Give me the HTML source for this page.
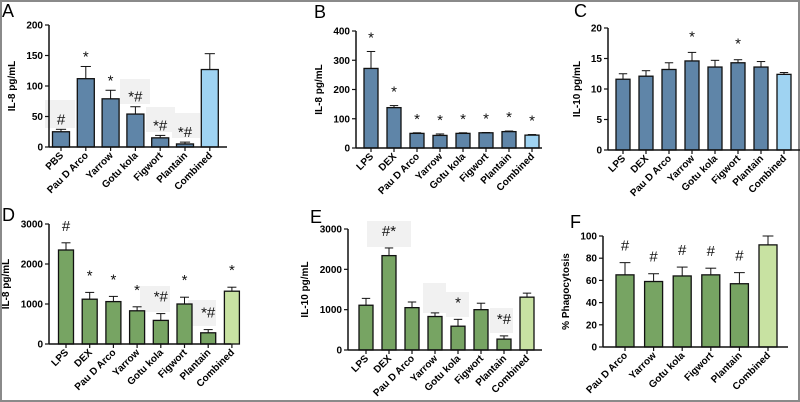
<!DOCTYPE html>
<html><head><meta charset="utf-8">
<style>
html,body{margin:0;padding:0;background:#fff;}
svg{display:block;font-family:"Liberation Sans",Arial,sans-serif;}
</style></head>
<body>
<svg id="fig" width="800" height="402" viewBox="0 0 800 402" xmlns="http://www.w3.org/2000/svg">
<rect x="1" y="1" width="798" height="400" fill="#fff" stroke="#8a8a8a" stroke-width="2"/>
</svg>
<script>
// Panel A data
const catsA = ["PBS","Pau D Arco","Yarrow","Gotu kola","Figwort","Plantain","Combined"];
const valsA = [25,112,79,54,15,5,127];
const errsA = [29,132,93,66,19,8,153];
const annA = ["#","*","*","*#","*#","*#",""];
const ticksA = [0,50,100,150,200];
// Panel B data
const catsB = ["LPS","DEX","Pau D Arco","Yarrow","Gotu kola","Figwort","Plantain","Combined"];
const valsB = [272,138,50,43,50,52,56,44];
const errsB = [330,145,52,48,52,53,58,46];
const annB = ["*","*","*","*","*","*","*","*"];
const ticksB = [0,100,200,300,400];
// Panel C data
const catsC = ["LPS","DEX","Pau D Arco","Yarrow","Gotu kola","Figwort","Plantain","Combined"];
const valsC = [11.6,12.1,13.2,14.6,13.6,14.3,13.6,12.4];
const errsC = [12.5,13,14.3,16,14.7,14.8,14.5,12.7];
const annC = ["","","","*","","*","",""];
const ticksC = [0,5,10,15,20];
// Panel D data
const catsD = ["LPS","DEX","Pau D Arco","Yarrow","Gotu kola","Figwort","Plantain","Combined"];
const valsD = [2350,1120,1060,830,590,1000,280,1320];
const errsD = [2530,1290,1190,930,760,1170,360,1420];
const annD = ["#","*","*","*","*#","*","*#","*"];
const ticksD = [0,1000,2000,3000];
// Panel E data
const catsE = ["LPS","DEX","Pau D Arco","Yarrow","Gotu kola","Figwort","Plantain","Combined"];
const valsE = [1110,2340,1050,830,590,1000,270,1310];
const errsE = [1280,2530,1190,920,760,1160,350,1410];
const annE = ["","#*","","","*","","*#",""];
const ticksE = [0,1000,2000,3000];
// Panel F data
const catsF = ["Pau D Arco","Yarrow","Gotu kola","Figwort","Plantain","Combined"];
const valsF = [65,59,64,65,57,92];
const errsF = [76,66,72,71,67,100];
const annF = ["#","#","#","#","#",""];
const ticksF = [0,20,40,60,80,100];

const NS = "http://www.w3.org/2000/svg";
const svg = document.getElementById("fig");
function mk(tag, attrs, parent, text){
  const e = document.createElementNS(NS, tag);
  for (const k in attrs) e.setAttribute(k, attrs[k]);
  if (text !== undefined) e.textContent = text;
  (parent||svg).appendChild(e);
  return e;
}
const BLUE="#5f85a8", LBLUE="#9fd3f2", GREEN="#77a463", LGREEN="#c8e2a2";

function panel(p){
  const g = mk("g",{});
  
  
  const ymax = p.ticks[p.ticks.length-1];
  const ys = v => p.y0 - (v/ymax)*(p.y0-p.yTop);
  const xs = i => p.x1 + i*p.step;
  const maxChars = Math.max(...p.ticks.map(t=>String(t).length));
  const titleOff = 10 + maxChars*6 + 6;
  const L = mk("text",{x:p.lx,y:p.ly,"font-size":18,fill:"#000"},g,p.id);
  
  
  const yt = mk("text",{x:0,y:0,"font-size":10,"font-weight":"bold","text-anchor":"middle",transform:`translate(${p.ax-titleOff},${(p.y0+p.yTop)/2}) rotate(-90)`},g,p.ytitle);
  
  
  (p.boxes||[]).forEach(b=>{
    const r = mk("rect",{x:b[0],y:b[1],width:b[2],height:b[3],fill:"#f1f1f1"},g);
    
    
  });
  p.vals.forEach((v,i)=>{
    const cx = xs(i), last = i===p.vals.length-1;
    const et = ys(p.errs[i]);
    const el = mk("line",{x1:cx,x2:cx,y1:et,y2:ys(v),stroke:"#111","stroke-width":1},g);
    
    
    const ec = mk("line",{x1:cx-p.bw*0.3,x2:cx+p.bw*0.3,y1:et,y2:et,stroke:"#111","stroke-width":1},g);
    
    
    const r = mk("rect",{x:cx-p.bw/2,y:ys(v),width:p.bw,height:p.y0-ys(v),fill:last?p.c2:p.c1,stroke:"#111","stroke-width":1.3},g);
    
    
    if (p.ann[i]) {
      const a = mk("text",{x:cx,y:et-p.agap,"font-size":15,"text-anchor":"middle",fill:"#111"},g,p.ann[i]);
      
      
    }
    const tk = mk("line",{x1:cx,x2:cx,y1:p.y0,y2:p.y0+4,stroke:"#111","stroke-width":1.2},g);
    
    
    const lb = mk("text",{x:0,y:0,"font-size":10,"font-weight":"bold","text-anchor":"end",transform:`translate(${cx+3},${p.y0+9}) rotate(-45)`},g,p.cats[i]);
    
    
  });
  const xa = mk("line",{x1:p.ax,x2:p.xEnd,y1:p.y0,y2:p.y0,stroke:"#111","stroke-width":1.5},g);
  
  
  const ya = mk("line",{x1:p.ax,x2:p.ax,y1:p.yTop,y2:p.y0,stroke:"#111","stroke-width":1.5},g);
  
  
  p.ticks.forEach(t=>{
    const y = ys(t);
    const tl = mk("line",{x1:p.ax-4,x2:p.ax,y1:y,y2:y,stroke:"#111","stroke-width":1.2},g);
    
    
    const tt = mk("text",{x:p.ax-6,y:y+3.5,"font-size":10,"font-weight":"bold","text-anchor":"end"},g,String(t));
    
    
  });
}

panel({id:"A",cats:catsA,vals:valsA,errs:errsA,ann:annA,ticks:ticksA,ytitle:"IL-8 pg/mL",
  ax:49,xEnd:227,y0:147,yTop:25,x1:61,step:24.8,bw:17,c1:BLUE,c2:LBLUE,lx:2,ly:17,agap:5,
  boxes:[[45,100,30,28],[120,79,30,25],[146,107,29,25],[172,113,28,25]]});
panel({id:"B",cats:catsB,vals:valsB,errs:errsB,ann:annB,ticks:ticksB,ytitle:"IL-8 pg/mL",
  ax:356,xEnd:542,y0:148,yTop:31,x1:371,step:23,bw:14,c1:BLUE,c2:LBLUE,lx:314,ly:18,agap:9});
panel({id:"C",cats:catsC,vals:valsC,errs:errsC,ann:annC,ticks:ticksC,ytitle:"IL-10 pg/mL",
  ax:608,xEnd:800,y0:150,yTop:28,x1:623,step:23,bw:14,c1:BLUE,c2:LBLUE,lx:574,ly:17,agap:11});
panel({id:"D",cats:catsD,vals:valsD,errs:errsD,ann:annD,ticks:ticksD,ytitle:"IL-8 pg/mL",
  ax:49,xEnd:231,y0:344,yTop:224,x1:66,step:23.7,bw:15,c1:GREEN,c2:LGREEN,lx:2,ly:221,agap:12,
  boxes:[[140,286,30,26],[188,300,28,26]]});
panel({id:"E",cats:catsE,vals:valsE,errs:errsE,ann:annE,ticks:ticksE,ytitle:"IL-10 pg/mL",
  ax:348,xEnd:542,y0:350,yTop:229,x1:366,step:23,bw:14,c1:GREEN,c2:LGREEN,lx:310,ly:223,agap:12,
  boxes:[[367,221,44,26],[423,283,23,30],[446,292,23,25],[490,308,23,25]]});
panel({id:"F",cats:catsF,vals:valsF,errs:errsF,ann:annF,ticks:ticksF,ytitle:"% Phagocytosis",
  ax:603,xEnd:788,y0:347,yTop:236,x1:625,step:28.6,bw:18,c1:GREEN,c2:LGREEN,lx:570,ly:228,agap:12});
</script>
</body></html>
